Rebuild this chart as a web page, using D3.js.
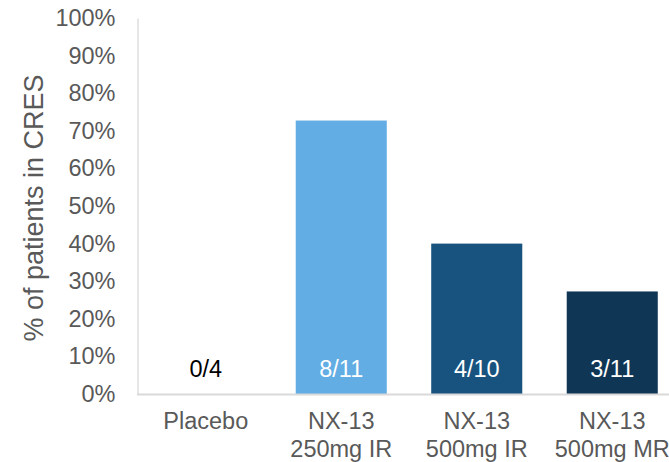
<!DOCTYPE html>
<html>
<head>
<meta charset="utf-8">
<script src="https://cdn.jsdelivr.net/npm/d3@7"></script>
<style>
  html, body { margin: 0; padding: 0; background: #fff; }
  svg { display: block; font-family: "Liberation Sans", Arial, sans-serif; }
</style>
</head>
<body>
<svg id="chart" width="669" height="462"></svg>
<script>
// Treatment groups, each label split over two lines
const categories = ["Placebo", "NX-13 250mg IR", "NX-13 500mg IR", "NX-13 500mg MR"];
const categoryLines = [["Placebo"], ["NX-13", "250mg IR"], ["NX-13", "500mg IR"], ["NX-13", "500mg MR"]];
// Responders / patients per group
const responders = [0, 8, 4, 3];
const patients = [4, 11, 10, 11];
const countLabels = ["0/4", "8/11", "4/10", "3/11"];
// Share of patients in CRES (%)
const values = responders.map((r, i) => r / patients[i] * 100);
const yTicks = [0, 10, 20, 30, 40, 50, 60, 70, 80, 90, 100];
const barColors = ["#62ADE3", "#62ADE3", "#18537F", "#103656"];
const labelColors = ["#000000", "#ffffff", "#ffffff", "#ffffff"];

const svg = d3.select("#chart");
const plotLeft = 138, plotTop = 18, plotBottom = 394;
const step = 135.5;

const x = d3.scaleBand()
  .domain(categories)
  .range([plotLeft, plotLeft + step * categories.length])
  .paddingInner(0.328)
  .paddingOuter(0.164);

const y = d3.scaleLinear().domain([0, 100]).range([plotBottom, plotTop]);

const fontSize = 23.5;
const titleSize = 27;
const font = "Liberation Sans, Arial, sans-serif";

// Bars
svg.append("g").selectAll("rect")
  .data(categories)
  .join("rect")
  .attr("x", d => x(d))
  .attr("width", x.bandwidth())
  .attr("y", (d, i) => y(values[i]))
  .attr("height", (d, i) => y(0) - y(values[i]))
  .attr("fill", (d, i) => barColors[i]);

// Y axis
const yAxis = d3.axisLeft(y)
  .tickValues(yTicks)
  .tickFormat(d => d + "%")
  .tickSize(0)
  .tickPadding(22);
const gy = svg.append("g").attr("transform", `translate(${plotLeft - 0.5},0)`).call(yAxis);
gy.select(".domain").attr("stroke", "#d9d9d9").attr("stroke-width", 1.3);
gy.selectAll("text")
  .attr("fill", "#595959")
  .attr("font-size", fontSize)
  .attr("font-family", font);

// Baseline across the plot
svg.append("line")
  .attr("x1", plotLeft - 1).attr("x2", 669)
  .attr("y1", y(0) + 0.5).attr("y2", y(0) + 0.5)
  .attr("stroke", "#d9d9d9").attr("stroke-width", 2);

// X axis labels (two-line)
const xAxis = d3.axisBottom(x).tickSize(0).tickFormat("");
const gx = svg.append("g").attr("transform", `translate(0,${plotBottom})`).call(xAxis);
gx.select(".domain").remove();
gx.selectAll(".tick").each(function(d, i) {
  const t = d3.select(this).append("text")
    .attr("fill", "#595959")
    .attr("font-size", fontSize)
    .attr("font-family", font)
    .attr("text-anchor", "middle");
  categoryLines[i].forEach((line, j) => {
    t.append("tspan").attr("x", 0).attr("y", 35 + j * 28).text(line);
  });
});

// Count labels near the base of each bar
svg.append("g").selectAll("text")
  .data(categories)
  .join("text")
  .attr("x", d => x(d) + x.bandwidth() / 2)
  .attr("y", y(0) - 17)
  .attr("text-anchor", "middle")
  .attr("font-size", fontSize)
  .attr("font-family", font)
  .attr("fill", (d, i) => labelColors[i])
  .text((d, i) => countLabels[i]);

// Y axis title
svg.append("text")
  .attr("transform", `translate(43,${(plotTop + plotBottom) / 2 + 2}) rotate(-90)`)
  .attr("text-anchor", "middle")
  .attr("font-size", titleSize)
  .attr("font-family", font)
  .attr("fill", "#595959")
  .text("% of patients in CRES");
</script>
</body>
</html>
